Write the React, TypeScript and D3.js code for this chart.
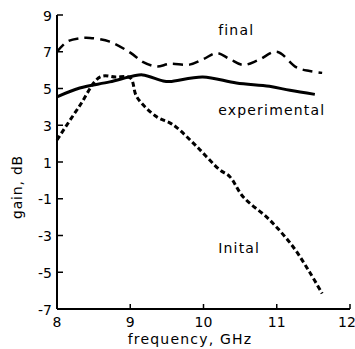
import { useEffect, useRef } from 'react'
import * as d3 from 'd3'

// frequency (GHz) / gain (dB)
const finalFreq = [8.0, 8.14, 8.31, 8.45, 8.72, 9.0, 9.17, 9.36, 9.54, 9.81, 10.0, 10.18, 10.36, 10.54, 10.75, 11.0, 11.27, 11.45, 11.62]
const finalGain = [7.0, 7.55, 7.73, 7.75, 7.55, 6.95, 6.45, 6.2, 6.34, 6.3, 6.6, 6.93, 6.6, 6.28, 6.55, 7.0, 6.15, 5.95, 5.85]

const expFreq = [8.0, 8.31, 8.72, 9.04, 9.17, 9.45, 9.54, 9.99, 10.45, 10.9, 11.18, 11.52]
const expGain = [4.55, 5.03, 5.36, 5.68, 5.74, 5.41, 5.38, 5.63, 5.3, 5.12, 4.9, 4.68]

const initFreq = [8.0, 8.3, 8.59, 8.8, 9.0, 9.09, 9.36, 9.54, 9.64, 9.91, 10.22, 10.36, 10.54, 10.9, 11.22, 11.45, 11.62]
const initGain = [2.2, 4.0, 5.63, 5.62, 5.58, 4.54, 3.46, 3.13, 2.86, 1.83, 0.58, 0.2, -0.89, -2.14, -3.6, -5.0, -6.16]

const xTicks = [8, 9, 10, 11, 12]
const yTicks = [9, 7, 5, 3, 1, -1, -3, -5, -7]

const curveLabels = [
  { text: 'final', f: 10.2, g: 7.91 },
  { text: 'experimental', f: 10.2, g: 3.57 },
  { text: 'Inital', f: 10.2, g: -3.93 },
]

export default function App() {
  const ref = useRef<SVGSVGElement | null>(null)

  useEffect(() => {
    if (!ref.current) return
    const svg = d3.select(ref.current)
    svg.selectAll('*').remove()
    const font = 'DejaVu Sans, sans-serif'

    const x = d3.scaleLinear().domain([8, 12]).range([57, 350])
    const y = d3.scaleLinear().domain([-7, 9]).range([309, 15])

    // axes lines
    svg.append('line').attr('x1', x(8)).attr('x2', x(8)).attr('y1', y(9)).attr('y2', y(-7))
      .attr('stroke', '#000').attr('stroke-width', 2)
    svg.append('line').attr('x1', x(8)).attr('x2', x(12)).attr('y1', y(-7)).attr('y2', y(-7))
      .attr('stroke', '#000').attr('stroke-width', 2)

    yTicks.forEach(t => {
      svg.append('line').attr('x1', x(8)).attr('x2', x(8) + 6).attr('y1', y(t)).attr('y2', y(t))
        .attr('stroke', '#000').attr('stroke-width', 1.5)
      svg.append('text').attr('x', x(8) - 5).attr('y', y(t) + 5.5)
        .attr('text-anchor', 'end').attr('font-family', font).attr('font-size', 14).text(t)
    })
    xTicks.forEach(t => {
      svg.append('line').attr('x1', x(t)).attr('x2', x(t)).attr('y1', y(-7)).attr('y2', y(-7) - 5)
        .attr('stroke', '#000').attr('stroke-width', 1.5)
      svg.append('text').attr('x', t === 12 ? x(t) - 3 : x(t)).attr('y', 327)
        .attr('text-anchor', 'middle').attr('font-family', font).attr('font-size', 14).text(t)
    })

    svg.append('text').attr('x', 190).attr('y', 344)
      .attr('text-anchor', 'middle').attr('font-family', font).attr('font-size', 14)
      .attr('letter-spacing', 1.2).text('frequency, GHz')
    svg.append('text').attr('transform', 'translate(22,187) rotate(-90)')
      .attr('text-anchor', 'middle').attr('font-family', font).attr('font-size', 14)
      .attr('letter-spacing', 0.8).text('gain, dB')

    const line = d3.line<[number, number]>().x(d => x(d[0])).y(d => y(d[1])).curve(d3.curveCatmullRom)

    svg.append('path').datum(finalFreq.map((f, i) => [f, finalGain[i]] as [number, number]))
      .attr('d', line).attr('fill', 'none').attr('stroke', '#000').attr('stroke-width', 2.5)
      .attr('stroke-dasharray', '10,6')
    svg.append('path').datum(expFreq.map((f, i) => [f, expGain[i]] as [number, number]))
      .attr('d', line).attr('fill', 'none').attr('stroke', '#000').attr('stroke-width', 3)
    svg.append('path').datum(initFreq.map((f, i) => [f, initGain[i]] as [number, number]))
      .attr('d', line).attr('fill', 'none').attr('stroke', '#000').attr('stroke-width', 3)
      .attr('stroke-dasharray', '5,3')

    curveLabels.forEach(l => {
      svg.append('text').attr('x', x(l.f)).attr('y', y(l.g))
        .attr('font-family', font).attr('font-size', 14).attr('letter-spacing', 1.2).text(l.text)
    })
  }, [])

  return (
    <svg ref={ref} width={355} height={349}
      style={{ position: 'absolute', left: 0, top: 0, background: '#fff' }} />
  )
}
